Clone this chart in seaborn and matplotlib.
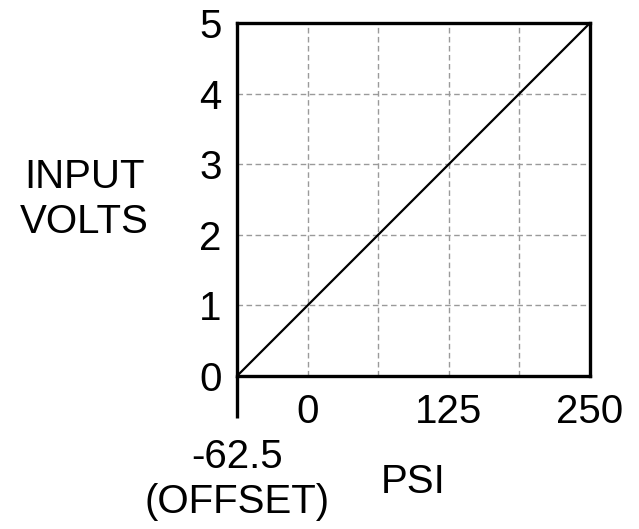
import matplotlib
matplotlib.use("Agg")
import matplotlib.pyplot as plt
import seaborn as sns
import pandas as pd

psi = [-62.5, 250]
volts = [0, 5]
x_grid = [-62.5, 0, 62.5, 125, 187.5, 250]
x_labels = ["", "0", "", "125", "", "250"]
y_ticks = [0, 1, 2, 3, 4, 5]
y_labels = ["0", "1", "2", "3", "4", "5"]

sns.set_style("white")
plt.rcParams['font.family'] = ['Liberation Sans', 'DejaVu Sans']
plt.rcParams['text.color'] = 'black'

FS = 29
fig = plt.figure(figsize=(6.39, 5.29), dpi=100)
ax = fig.add_axes([237/639, 1-376/529, (590-237)/639, (376-23)/529])

df = pd.DataFrame({"PSI": psi, "VOLTS": volts})
sns.lineplot(data=df, x="PSI", y="VOLTS", ax=ax, color="black", linewidth=1.6)

ax.set_xlim(psi[0], psi[-1])
ax.set_ylim(volts[0], volts[-1])
ax.xaxis.remove_overlapping_locs = False
ax.set_xticks(x_grid)
ax.set_xticklabels(x_labels)
ax.set_xticks([psi[0]], minor=True)
ax.set_yticks(y_ticks)
ax.set_yticklabels(y_labels)
ax.tick_params(axis='both', which='major', length=0, labelsize=FS, labelcolor='black')
ax.tick_params(axis='x', which='major', pad=12)
ax.tick_params(axis='y', which='major', pad=11)
ax.tick_params(axis='x', which='minor', bottom=True, length=30, width=2.4,
               color='black', direction='out')
ax.grid(True, which='major', color='#9a9a9a', linestyle=(0, (4, 2.5)), linewidth=1)
for s in ax.spines.values():
    s.set_visible(True)
    s.set_color('black')
    s.set_linewidth(2.4)
ax.set_xlabel("")
ax.set_ylabel("")

ax.annotate("-62.5\n(OFFSET)", xy=(psi[0], 0), xycoords='data',
            xytext=(0, -45), textcoords='offset points',
            ha='center', va='top', fontsize=FS, linespacing=1.22, color='black',
            multialignment='center')
ax.annotate("PSI", xy=(0.5, 0), xycoords='axes fraction',
            xytext=(0, -76), textcoords='offset points',
            ha='center', va='center', fontsize=FS, color='black')
ax.annotate("INPUT\nVOLTS", xy=(0, 0.5), xycoords='axes fraction',
            xytext=(-110, 0), textcoords='offset points',
            ha='center', va='center', fontsize=FS, linespacing=1.25, color='black')

fig.savefig("out.png", dpi=100)
